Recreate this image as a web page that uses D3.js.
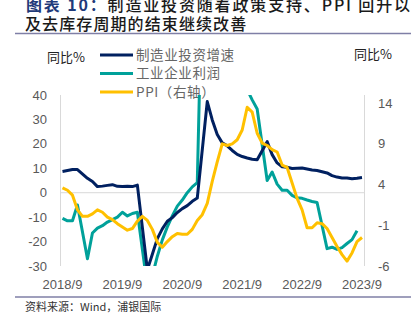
<!DOCTYPE html>
<html>
<head>
<meta charset="utf-8">
<script src="https://cdn.jsdelivr.net/npm/d3@7"></script>
<style>
  html, body { margin: 0; padding: 0; background: #fff; }
  svg { display: block; }
</style>
</head>
<body>
<svg id="chart" width="415" height="321"></svg>
<script>
// monthly, 2018/9 .. 2023/9 (null = month not published, line is joined over it)
var months = [
  '2018/9','2018/10','2018/11','2018/12',
  '2019/1','2019/2','2019/3','2019/4','2019/5','2019/6','2019/7','2019/8','2019/9','2019/10','2019/11','2019/12',
  '2020/1','2020/2','2020/3','2020/4','2020/5','2020/6','2020/7','2020/8','2020/9','2020/10','2020/11','2020/12',
  '2021/1','2021/2','2021/3','2021/4','2021/5','2021/6','2021/7','2021/8','2021/9','2021/10','2021/11','2021/12',
  '2022/1','2022/2','2022/3','2022/4','2022/5','2022/6','2022/7','2022/8','2022/9','2022/10','2022/11','2022/12',
  '2023/1','2023/2','2023/3','2023/4','2023/5','2023/6','2023/7','2023/8','2023/9'
]

// 制造业投资增速 (left axis)
var mfgInvest = [
  8.7, 9.1, 9.5, 9.5,
  null, 5.9, 4.6, 2.5, 2.7, 3.0, 3.3, 2.6, 2.5, 2.6, 2.5, 3.1,
  null, -31.5, -25.2, -18.8, -14.8, -11.7, -10.2, -8.1, -6.5, -5.3, -3.5, -2.2,
  null, 37.3, 29.8, 23.8, 20.4, 19.2, 17.3, 15.7, 14.8, 14.2, 13.7, 13.5,
  null, 20.9, 15.6, 12.2, 10.6, 10.4, 9.9, 10.0, 10.1, 9.7, 9.3, 9.1,
  null, 8.1, 7.0, 6.4, 6.0, 6.0, 5.7, 5.9, 6.2
]

// 工业企业利润 (left axis)
var profits = [
  -10.5, -11.5, -11.5, -5,
  null, -27, -16.5, -14.5, -13.5, -12, -11, -10, -8, -9.5, -8.5, -8,
  null, -38.3, -34, -26, -19.3, -14, -9.5, -5.5, -3, 0, 2.4, 4.1,
  null, 178.9, 137.3, 106, 83.4, 66.9, 57.3, 49.5, 44.7, 42.2, 38, 34.3,
  null, 5.0, 8.5, 3.5, 1.0, 1.0, -1.1, -2.1, -2.3, -3.0, -3.6, -4.0,
  null, -22.9, -22.3, -23.2, -22.5, -20.8, -19.2, -15.6, null
]

// PPI (right axis)
var ppi = [
  3.6, 3.3, 2.7, 0.9,
  0.1, 0.1, 0.4, 0.9, 0.6, 0.0, -0.3, -0.8, -1.2, -1.6, -1.4, -0.5,
  0.1, -0.4, -1.5, -3.1, -3.7, -3.0, -2.4, -2.0, -2.1, -2.1, -1.5, -0.4,
  0.3, 1.7, 4.4, 6.8, 9.0, 8.8, 9.0, 9.5, 10.7, 13.5, 12.9, 10.3,
  9.1, 8.8, 8.3, 8.0, 6.4, 6.1, 4.2, 2.3, 0.9, -1.3, -1.3, -0.7,
  -0.8, -1.4, -2.5, -3.6, -4.6, -5.4, -4.4, -3.0, -2.5
]

var xTicks = ['2018/9', '2019/9', '2020/9', '2021/9', '2022/9', '2023/9']
var leftTicks = [40, 30, 20, 10, 0, -10, -20, -30]
var rightTicks = [14, 9, 4, -1, -6]

var seriesNames = ['制造业投资增速', '工业企业利润', 'PPI（右轴）']
var colors = ['#002060', '#00a19a', '#ffc000']

var svg = d3.select('#chart')
var plotLeft = 60, plotRight = 364.5, plotTop = 95, plotBottom = 266

var x = d3.scaleBand().domain(months).range([plotLeft, plotRight])
var cx = function(m) { return x(m) + x.bandwidth() / 2 }
var yL = d3.scaleLinear().domain([-30, 40]).range([plotBottom, plotTop])
var yR = d3.scaleLinear().domain([-6, 15]).range([plotBottom, plotTop])

var tickFont = 'Liberation Sans, Arial, sans-serif'
var cjkFont = 'Noto Sans CJK SC, sans-serif'

// title
var title = svg.append('g').attr('font-family', cjkFont)
var t1 = title.append('text')
  .attr('x', 26).attr('y', 11)
  .attr('font-size', 16).attr('font-weight', 500)
  .attr('textLength', 384).attr('lengthAdjust', 'spacing')
t1.append('tspan').attr('fill', '#1f3a7a').attr('font-weight', 700).text('图表 10：')
t1.append('tspan').attr('fill', '#1a1a1a').text('制造业投资随着政策支持、PPI 回升以')
title.append('text')
  .attr('x', 25).attr('y', 30)
  .attr('font-size', 16).attr('font-weight', 500)
  .attr('fill', '#1a1a1a')
  .attr('letter-spacing', 1.1)
  .text('及去库存周期的结束继续改善')

svg.append('line')
  .attr('x1', 15).attr('x2', 411).attr('y1', 33.5).attr('y2', 33.5)
  .attr('stroke', '#7f7fa6').attr('stroke-width', 1.5)

// axis titles
svg.append('text').attr('x', 47).attr('y', 62)
  .attr('font-family', cjkFont).attr('font-size', 13).attr('fill', '#222')
  .text('同比%')
svg.append('text').attr('x', 354).attr('y', 59)
  .attr('font-family', cjkFont).attr('font-size', 13).attr('fill', '#222')
  .text('同比%')

// legend
var legend = svg.append('g')
seriesNames.forEach(function(name, i) {
  var ly = 55 + i * 18.5
  legend.append('line')
    .attr('x1', 100).attr('x2', 133).attr('y1', ly).attr('y2', ly)
    .attr('stroke', colors[i]).attr('stroke-width', 3)
  legend.append('text')
    .attr('x', 136).attr('y', ly + 4.5)
    .attr('font-family', cjkFont).attr('font-size', 13.5)
    .attr('letter-spacing', 0.6)
    .attr('fill', '#666')
    .text(name)
})

// axes lines
svg.append('line')
  .attr('x1', plotLeft + 0.5).attr('x2', plotLeft + 0.5).attr('y1', plotTop).attr('y2', plotBottom)
  .attr('stroke', '#d9d9d9')
svg.append('line')
  .attr('x1', plotRight).attr('x2', plotRight).attr('y1', plotTop).attr('y2', plotBottom)
  .attr('stroke', '#d9d9d9')
svg.append('line')
  .attr('x1', plotLeft).attr('x2', plotRight).attr('y1', yL(0)).attr('y2', yL(0))
  .attr('stroke', '#d9d9d9')

// tick labels
svg.append('g').selectAll('text').data(leftTicks).enter().append('text')
  .attr('x', 47).attr('y', function(d) { return yL(d) + 4.5 })
  .attr('text-anchor', 'end')
  .attr('font-family', tickFont).attr('font-size', 13).attr('fill', '#595959')
  .text(function(d) { return d })

svg.append('g').selectAll('text').data(rightTicks).enter().append('text')
  .attr('x', 378).attr('y', function(d) { return yR(d) + 4.5 })
  .attr('font-family', tickFont).attr('font-size', 13).attr('fill', '#595959')
  .text(function(d) { return d })

svg.append('g').selectAll('text').data(xTicks).enter().append('text')
  .attr('x', function(d) { return cx(d) }).attr('y', 289)
  .attr('text-anchor', 'middle')
  .attr('font-family', tickFont).attr('font-size', 13).attr('fill', '#595959')
  .text(function(d) { return d })

// lines
svg.append('clipPath').attr('id', 'plot-clip')
  .append('rect')
  .attr('x', plotLeft).attr('y', plotTop)
  .attr('width', plotRight - plotLeft + 2).attr('height', plotBottom - plotTop)

var plot = svg.append('g').attr('clip-path', 'url(#plot-clip)')

function drawSeries(values, scale, color) {
  var pts = months
    .map(function(m, i) { return [m, values[i]] })
    .filter(function(d) { return d[1] != null })
  var line = d3.line()
    .x(function(d) { return cx(d[0]) })
    .y(function(d) { return scale(d[1]) })
  plot.append('path')
    .attr('d', line(pts))
    .attr('fill', 'none')
    .attr('stroke', color)
    .attr('stroke-width', 3)
    .attr('stroke-linejoin', 'round')
}

drawSeries(profits, yL, colors[1])
drawSeries(mfgInvest, yL, colors[0])
drawSeries(ppi, yR, colors[2])

// footer
svg.append('line')
  .attr('x1', 15).attr('x2', 411).attr('y1', 297).attr('y2', 297)
  .attr('stroke', '#7f7fa6').attr('stroke-width', 1.5)
svg.append('text').attr('x', 25).attr('y', 311)
  .attr('font-family', cjkFont).attr('font-size', 11).attr('fill', '#333')
  .text('资料来源：Wind，浦银国际')
</script>
</body>
</html>
